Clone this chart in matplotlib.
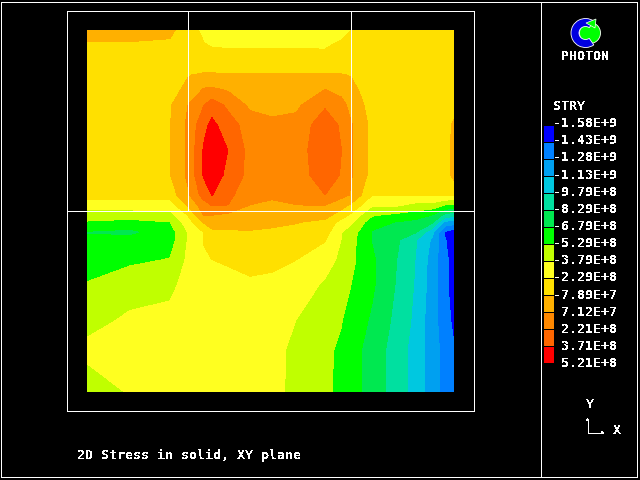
import numpy as np
import matplotlib
matplotlib.use("Agg")
import matplotlib.pyplot as plt
from matplotlib.patches import Wedge, Circle, Polygon

plt.rcParams["text.antialiased"] = False
plt.rcParams["font.family"] = "DejaVu Sans Mono"

title = "2D Stress in solid, XY plane"
variable = "STRY"
logo_text = "PHOTON"

# contour levels (units of 1e8) and their printed labels
levels = [-15.8, -14.3, -12.8, -11.3, -9.79, -8.29, -6.79, -5.29, -3.79,
          -2.29, -0.789, 0.712, 2.21, 3.71, 5.21]
level_labels = ["-1.58E+9", "-1.43E+9", "-1.28E+9", "-1.13E+9", "-9.79E+8",
                "-8.29E+8", "-6.79E+8", "-5.29E+8", "-3.79E+8", "-2.29E+8",
                "-7.89E+7", " 7.12E+7", " 2.21E+8", " 3.71E+8", " 5.21E+8"]
band_colors = ["#0000ff", "#0080ff", "#00a0f0", "#00c8e0", "#00e0a0", "#00e850",
               "#00ff00", "#c0ff00", "#ffff20", "#ffe000", "#ffb000", "#ff8800",
               "#ff6600", "#ff0000"]

# mesh nodes
x_nodes = [87, 130, 170, 188, 204, 212, 228, 250, 272, 296, 325, 341, 351, 372, 395, 415, 432, 445, 454]
y_nodes = [30, 45, 65, 75, 90, 105, 125, 150, 175, 195, 205, 215, 222, 232, 240, 260, 285, 320, 350, 392]

# stress at the nodes (units of 1e8), one row per y node
stry = [
    [-0.4, -0.4, -0.5, -1.5, -2.7, -2.9, -3.0, -3.0, -3.0, -3.0, -3.85, -2.9, -2.3, -1.6, -1.5, -1.5, -1.5, -1.5, -1.5],
    [-0.9, -0.9, -1.0, -1.5, -2.2, -2.4, -2.45, -2.45, -2.45, -2.45, -2.5, -2.0, -1.6, -1.5, -1.5, -1.5, -1.5, -1.5, -1.5],
    [-1.5, -1.5, -1.5, -1.3, -1.4, -1.5, -1.5, -1.5, -1.5, -1.5, -1.5, -1.5, -1.5, -1.5, -1.5, -1.5, -1.5, -1.5, -1.5],
    [-1.5, -1.5, -1.5, -0.85, -0.6, -0.6, -0.65, -0.65, -0.65, -0.65, -0.65, -0.7, -0.85, -1.6, -1.5, -1.5, -1.5, -1.5, -1.5],
    [-1.5, -1.5, -1.2, -0.5, 0.9, 1.0, 0.6, -0.4, -0.6, -0.4, 0.75, 0.2, -0.4, -1.5, -1.5, -1.5, -1.5, -1.5, -1.5],
    [-1.5, -1.5, -0.95, 0.7, 2.2, 3.0, 1.9, 0.4, 0.0, 0.4, 2.0, 1.3, 0.2, -1.4, -1.5, -1.5, -1.5, -1.5, -1.5],
    [-1.5, -1.5, -0.85, 1.0, 3.3, 4.1, 2.9, 1.5, 1.2, 1.2, 3.1, 2.0, 0.85, -1.2, -1.5, -1.5, -1.5, -1.5, -0.5],
    [-1.5, -1.5, -0.85, 1.0, 3.9, 4.4, 3.7, 1.7, 1.4, 1.4, 3.4, 2.25, 0.85, -1.2, -1.5, -1.5, -1.5, -1.5, -0.3],
    [-1.5, -1.5, -0.85, 1.0, 3.9, 4.4, 3.4, 1.7, 1.4, 1.3, 3.2, 2.1, 0.85, -1.3, -1.5, -1.5, -1.5, -1.5, -0.3],
    [-1.6, -1.6, -1.6, 0.5, 2.9, 3.75, 2.6, 1.2, 0.9, 1.0, 2.2, 1.2, 0.6, -2.25, -2.2, -2.2, -2.2, -2.2, -2.2],
    [-3.0, -3.0, -3.0, -0.6, 1.6, 2.3, 2.2, 0.7, 0.5, 0.7, 0.75, -0.2, -1.0, -3.6, -3.5, -4.2, -4.3, -5.3, -5.6],
    [-4.6, -4.6, -4.4, -2.2, 0.85, 0.75, 0.4, 0.1, 0.0, 0.2, -0.3, -1.4, -2.6, -5.1, -5.6, -6.0, -6.8, -8.7, -9.3],
    [-5.4, -5.7, -5.3, -3.0, -0.6, -0.3, -0.4, -0.5, -0.5, -0.7, -1.1, -2.8, -3.5, -6.2, -6.8, -7.2, -7.9, -11.6, -12.0],
    [-6.9, -7.2, -6.0, -3.7, -2.2, -1.0, -0.9, -0.85, -1.0, -1.2, -1.7, -3.7, -4.5, -6.9, -7.4, -8.1, -10.8, -14.5, -15.2],
    [-6.5, -6.3, -6.0, -3.7, -2.2, -1.5, -1.2, -1.0, -1.3, -1.8, -2.2, -3.79, -4.8, -6.85, -7.9, -9.6, -11.5, -14.2, -15.2],
    [-5.9, -5.6, -5.2, -3.5, -2.5, -2.3, -2.15, -1.9, -1.9, -2.29, -3.2, -4.1, -4.9, -6.55, -8.15, -9.79, -11.9, -13.9, -15.0],
    [-5.2, -4.3, -4.2, -3.2, -2.8, -2.7, -2.7, -2.5, -2.7, -3.0, -4.0, -4.8, -5.29, -6.55, -8.29, -9.9, -12.0, -13.9, -15.1],
    [-4.2, -3.6, -3.3, -3.0, -2.8, -2.8, -2.8, -2.8, -3.2, -3.79, -4.76, -5.2, -5.83, -7.0, -8.6, -10.1, -12.2, -13.6, -14.7],
    [-3.5, -3.2, -3.0, -2.9, -2.8, -2.8, -2.8, -2.8, -3.4, -4.1, -5.04, -5.5, -6.2, -7.4, -8.9, -10.35, -12.0, -13.4, -14.2],
    [-4.4, -3.7, -3.0, -2.9, -2.8, -2.8, -2.8, -2.8, -3.4, -4.13, -5.04, -5.6, -6.2, -7.4, -8.9, -10.35, -12.0, -13.4, -14.2],
]

W, H = 640, 480
fig = plt.figure(figsize=(W / 100, H / 100), dpi=100, facecolor="black")
ax = fig.add_axes([0, 0, 1, 1], facecolor="black")
ax.set_xlim(0, W)
ax.set_ylim(H, 0)
ax.axis("off")

ax.contourf(x_nodes, y_nodes, np.array(stry), levels=levels, colors=band_colors,
            antialiased=False)


def line(xs, ys, lw=0.5):
    ax.plot(xs, ys, color="white", lw=lw, antialiased=False, solid_capstyle="butt")


# outer frame and panel divider
line([0.5, 636.5, 636.5, 0.5, 0.5], [1.5, 1.5, 476.5, 476.5, 1.5])
line([540.5, 540.5], [1.5, 476.5])

# view frame with the solid outline
line([66.5, 473.5, 473.5, 66.5, 66.5], [10.5, 10.5, 410.5, 410.5, 10.5])
line([66.5, 473.5], [210.5, 210.5])
line([187.5, 187.5], [10.5, 210.5])
line([350.5, 350.5], [10.5, 210.5])

# legend bar
cax = fig.add_axes([543.5 / W, 1 - 364 / H, 10.5 / W, 238 / H], facecolor="black")
cax.set_xlim(0, 1)
cax.set_ylim(len(band_colors), 0)
cax.axis("off")
cax.bar(0.5, 0.97, width=1, bottom=np.arange(len(band_colors)), color=band_colors,
        linewidth=0, antialiased=False)

font = dict(color="white", fontsize=9.6, fontweight="bold", family="DejaVu Sans Mono")
for i, lab in enumerate(level_labels):
    ypix = 123.7 + i * (363 - 123) / (len(level_labels) - 1)
    ax.text(553, ypix, lab, ha="left", va="center", **font)
ax.text(553, 106.5, variable, ha="left", va="center", **font)
ax.text(585, 56, logo_text, ha="center", va="center", **font)
ax.text(77, 455, title, ha="left", va="center", **font)
ax.text(590, 404, "Y", ha="center", va="center", **font)
ax.text(617, 430, "X", ha="center", va="center", **font)

# axis triad
line([587.5, 587.5], [419, 432.5])
line([587.5, 603], [432.5, 432.5])
ax.add_patch(Polygon([[586, 421], [589, 421], [587.5, 418]], color="white", lw=0, antialiased=False))
ax.add_patch(Polygon([[601, 431], [601, 434], [604, 432.5]], color="white", lw=0, antialiased=False))

# logo
ax.add_patch(Circle((590, 33), 10.5, facecolor="#00ff00", edgecolor="white", lw=0.6))
ax.add_patch(Wedge((585.5, 33), 14.5, 55, 305, width=8, facecolor="#0000e0", edgecolor="white", lw=0.6))
ax.add_patch(Polygon([[586, 23], [596, 19], [595, 28]], facecolor="#00ff00", edgecolor="white", lw=0.5))

fig.savefig("out.png", dpi=100, facecolor="black")
